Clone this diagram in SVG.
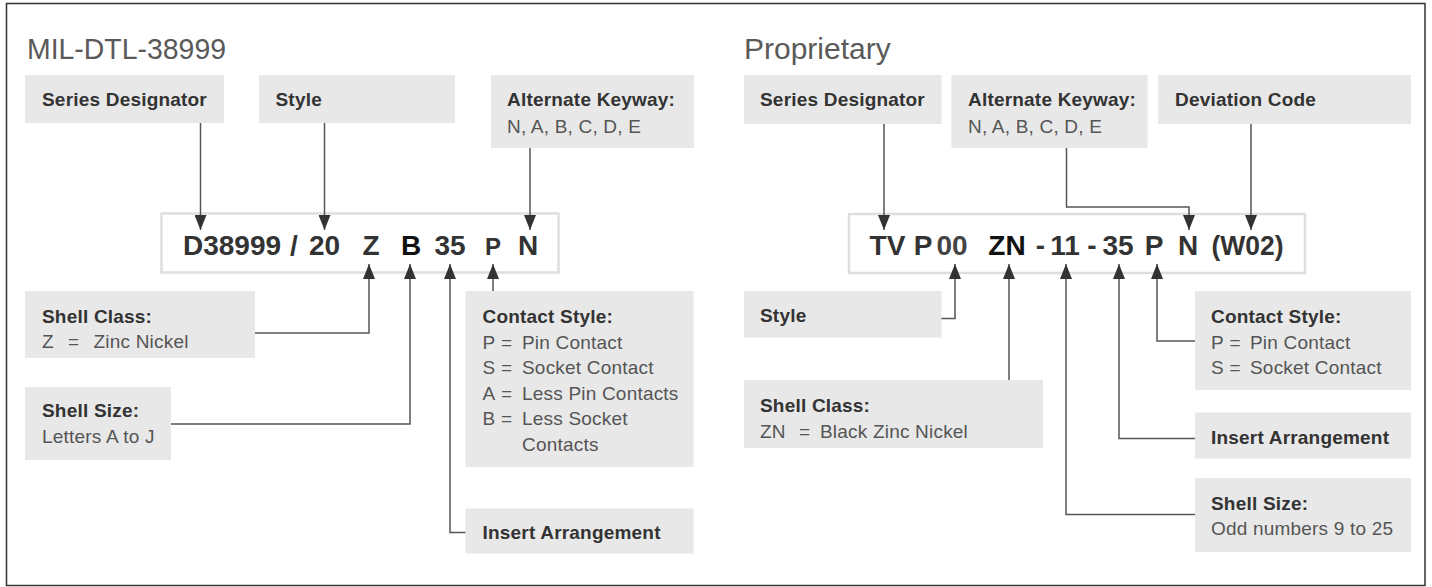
<svg xmlns="http://www.w3.org/2000/svg" width="1432" height="587" viewBox="0 0 1432 587">
<defs>
<marker id="ah" viewBox="0 0 15 12" refX="15" refY="6" markerWidth="15" markerHeight="12" markerUnits="userSpaceOnUse" orient="auto">
<path d="M0,0 L15,6 L0,12 z" fill="#333"/>
</marker>
<style>
.box{fill:#e8e8e8}
.code{fill:#fff;stroke:#dedede;stroke-width:2.5}
.lb{font-family:"Liberation Sans",Arial,sans-serif;font-weight:bold;font-size:19px;fill:#333;letter-spacing:0.2px}
.rg{font-family:"Liberation Sans",Arial,sans-serif;font-size:19px;fill:#555;letter-spacing:0.2px}
.ttl{font-family:"Liberation Sans",Arial,sans-serif;font-size:30px;fill:#5a5a5a}
.cd{font-family:"Liberation Sans",Arial,sans-serif;font-weight:bold;font-size:28px;fill:#333;text-anchor:middle}
.cn{fill:none;stroke:#555;stroke-width:1.5}
.ar{marker-end:url(#ah)}
</style>
</defs>
<rect x="6.5" y="3.5" width="1418.5" height="582" fill="#fff" stroke="#333" stroke-width="1.5"/>

<text class="ttl" x="27" y="59" textLength="199" lengthAdjust="spacingAndGlyphs">MIL-DTL-38999</text>
<text class="ttl" x="744" y="59">Proprietary</text>

<!-- Left diagram nodes -->
<g id="l-series">
<rect class="box" x="25" y="75" width="199" height="48"/>
<text class="lb" x="42" y="106">Series Designator</text>
</g>
<g id="l-style">
<rect class="box" x="259" y="75" width="196" height="48"/>
<text class="lb" x="275.5" y="106">Style</text>
</g>
<g id="l-keyway">
<rect class="box" x="491" y="75" width="203" height="73"/>
<text class="lb" x="507" y="106">Alternate Keyway:</text>
<text class="rg" x="507" y="133">N, A, B, C, D, E</text>
</g>
<g id="l-code">
<rect class="code" x="161.5" y="213.5" width="397" height="59"/>
<text class="cd" x="232" y="255">D38999</text>
<text class="cd" x="294" y="255">/</text>
<text class="cd" x="324.5" y="255">20</text>
<text class="cd" x="371" y="255">Z</text>
<text class="cd" x="411" y="255" style="fill:#111">B</text>
<text class="cd" x="450" y="255">35</text>
<text class="cd" x="493" y="255" style="font-size:24px">P</text>
<text class="cd" x="528" y="255">N</text>
</g>
<g id="l-shellclass">
<rect class="box" x="25" y="291" width="230" height="67"/>
<text class="lb" x="42" y="323">Shell Class:</text>
<text class="rg" y="348"><tspan x="42">Z</tspan><tspan x="68">=</tspan><tspan x="93.5">Zinc Nickel</tspan></text>
</g>
<g id="l-shellsize">
<rect class="box" x="25" y="387" width="146" height="73"/>
<text class="lb" x="42" y="417">Shell Size:</text>
<text class="rg" x="42" y="443">Letters A to J</text>
</g>
<g id="l-contact">
<rect class="box" x="465.5" y="291" width="228" height="176"/>
<text class="lb" x="482.5" y="323">Contact Style:</text>
<text class="rg" y="348.5"><tspan x="482.5">P</tspan><tspan x="501">=</tspan><tspan x="522">Pin Contact</tspan></text>
<text class="rg" y="374"><tspan x="482.5">S</tspan><tspan x="501">=</tspan><tspan x="522">Socket Contact</tspan></text>
<text class="rg" y="399.5"><tspan x="482.5">A</tspan><tspan x="501">=</tspan><tspan x="522">Less Pin Contacts</tspan></text>
<text class="rg" y="425"><tspan x="482.5">B</tspan><tspan x="501">=</tspan><tspan x="522">Less Socket</tspan></text>
<text class="rg" x="522" y="450.5">Contacts</text>
</g>
<g id="l-insert">
<rect class="box" x="465.5" y="508.5" width="228" height="45"/>
<text class="lb" x="482.5" y="539">Insert Arrangement</text>
</g>

<!-- Right diagram nodes -->
<g id="r-series">
<rect class="box" x="744" y="75" width="197.5" height="49"/>
<text class="lb" x="760" y="106">Series Designator</text>
</g>
<g id="r-keyway">
<rect class="box" x="951.5" y="75" width="196" height="73"/>
<text class="lb" x="968" y="106">Alternate Keyway:</text>
<text class="rg" x="968" y="133">N, A, B, C, D, E</text>
</g>
<g id="r-deviation">
<rect class="box" x="1158" y="75" width="253" height="49"/>
<text class="lb" x="1175" y="106">Deviation Code</text>
</g>
<g id="r-code">
<rect class="code" x="849" y="214" width="456" height="59"/>
<text class="cd" x="887.5" y="255">TV</text>
<text class="cd" x="923" y="255">P</text>
<text class="cd" x="952" y="255" style="fill:#444">00</text>
<text class="cd" x="1007" y="255" style="fill:#111">ZN</text>
<text class="cd" x="1040.5" y="255">-</text>
<text class="cd" x="1065" y="255">11</text>
<text class="cd" x="1092" y="255">-</text>
<text class="cd" x="1118" y="255">35</text>
<text class="cd" x="1154" y="255">P</text>
<text class="cd" x="1188" y="255">N</text>
<text class="cd" x="1247.5" y="255" textLength="72" lengthAdjust="spacingAndGlyphs">(W02)</text>
</g>
<g id="r-style">
<rect class="box" x="744" y="291" width="197.5" height="46.5"/>
<text class="lb" x="760" y="322">Style</text>
</g>
<g id="r-shellclass">
<rect class="box" x="744" y="380" width="299" height="68"/>
<text class="lb" x="760" y="411.5">Shell Class:</text>
<text class="rg" y="437.5"><tspan x="760">ZN</tspan><tspan x="799">=</tspan><tspan x="820">Black Zinc Nickel</tspan></text>
</g>
<g id="r-contact">
<rect class="box" x="1195" y="291" width="216" height="99"/>
<text class="lb" x="1211" y="323">Contact Style:</text>
<text class="rg" y="348.5"><tspan x="1211">P</tspan><tspan x="1229.5">=</tspan><tspan x="1250">Pin Contact</tspan></text>
<text class="rg" y="374"><tspan x="1211">S</tspan><tspan x="1229.5">=</tspan><tspan x="1250">Socket Contact</tspan></text>
</g>
<g id="r-insert">
<rect class="box" x="1195" y="412.5" width="216" height="46"/>
<text class="lb" x="1211" y="443.5">Insert Arrangement</text>
</g>
<g id="r-shellsize">
<rect class="box" x="1195" y="478" width="216" height="74"/>
<text class="lb" x="1211" y="509.5">Shell Size:</text>
<text class="rg" x="1211" y="535">Odd numbers 9 to 25</text>
</g>

<!-- Connectors -->
<g id="connectors">
<path class="cn ar" d="M200.5,123 V230"/>
<path class="cn ar" d="M324.5,123 V230"/>
<path class="cn ar" d="M530,148 V230"/>
<path class="cn ar" d="M255,333 H369 V264"/>
<path class="cn ar" d="M171,424 H410 V264"/>
<path class="cn ar" d="M465.5,532.5 H450 V264"/>
<path class="cn ar" d="M493,291 V264"/>

<path class="cn ar" d="M884,124 V230"/>
<path class="cn ar" d="M1066.5,148 V207 H1189 V230"/>
<path class="cn ar" d="M1251,124 V230"/>
<path class="cn ar" d="M941.5,318.5 H955 V264"/>
<path class="cn ar" d="M1009,380 V264"/>
<path class="cn ar" d="M1195,514.5 H1066 V264"/>
<path class="cn ar" d="M1195,438.5 H1119 V264"/>
<path class="cn ar" d="M1195,341 H1157 V264"/>
</g>
</svg>
